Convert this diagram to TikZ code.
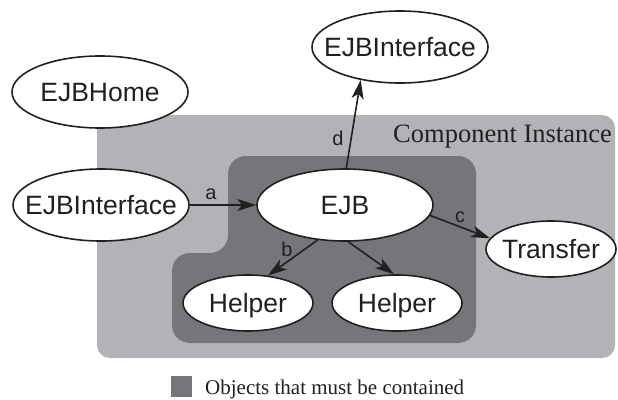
\documentclass[tikz,border=0pt]{standalone}
\usepackage{fontspec}
\setmainfont{Liberation Serif}
\newfontfamily\arialf{Liberation Sans}
\usetikzlibrary{shapes.geometric,arrows.meta}
\definecolor{lightbox}{RGB}{178,179,183}
\definecolor{darkbox}{RGB}{117,118,122}
\definecolor{ink}{RGB}{35,31,32}
\begin{document}
\begin{tikzpicture}[x=1pt,y=-1pt,
  ell/.style={ellipse, draw=ink, line width=1.6pt, fill=white, inner sep=0pt},
  big/.style={ell, minimum width=176pt, minimum height=72pt},
  small/.style={ell, minimum width=130pt, minimum height=56pt},
  txt/.style={font=\arialf\fontsize{26.5}{30}\selectfont, text=ink, inner sep=0pt, text height=19pt, text depth=0pt},
  lab/.style={font=\arialf\fontsize{20}{24}\selectfont, text=ink, inner sep=0pt, anchor=base},
  arr/.style={draw=ink, line width=1.6pt, -{Stealth[length=19pt,width=12pt,inset=5pt]}},
  serift/.style={text=ink, inner sep=0pt}
]
\useasboundingbox (0,0) rectangle (618,399);
% regions
\fill[lightbox, rounded corners=13pt] (97,115) rectangle (615,358);
\fill[darkbox, rounded corners=18pt] (350,156) -- (476,156) -- (476,343) -- (172,343) -- (172,253) -- (228,253) -- (228,156) -- cycle;
\node[serift, anchor=base east, font=\fontsize{26.5}{30}\selectfont] (ci) at (612,142) {Component Instance};
% nodes
\node[big, label={[txt]center:EJBInterface}] (topi) at (400,47) {};
\node[big, label={[txt]center:EJBHome}] (home) at (100,92) {};
\node[big, label={[txt]center:EJBInterface}] (lefti) at (101,205) {};
\node[big, label={[txt]center:EJB}] (ejb) at (345,205) {};
\node[small, label={[txt]center:Transfer}] (tr) at (551,249) {};
\node[small, label={[txt]center:Helper}] (hl) at (248,303) {};
\node[small, label={[txt]center:Helper}] (hr) at (397,303) {};
% connectors
\draw[arr] (lefti.east) -- (ejb.west);
\draw[arr] (ejb.88) -- (topi.220);
\draw[arr] (ejb.-7) -- (tr.170);
\draw[arr] (ejb.232) -- (hl.54);
\draw[arr] (ejb.-85) -- (hr.96);
% edge labels
\node[lab] (la) at (211,199) {a};
\node[lab] (lb) at (287,256) {b};
\node[lab] (lc) at (460,222) {c};
\node[lab] (ld) at (338,145) {d};
% legend
\fill[darkbox] (171,376) rectangle (192,397);
\node[serift, anchor=base west, font=\fontsize{21}{25}\selectfont] (leg) at (205,394) {Objects that must be contained};
\end{tikzpicture}
\end{document}
